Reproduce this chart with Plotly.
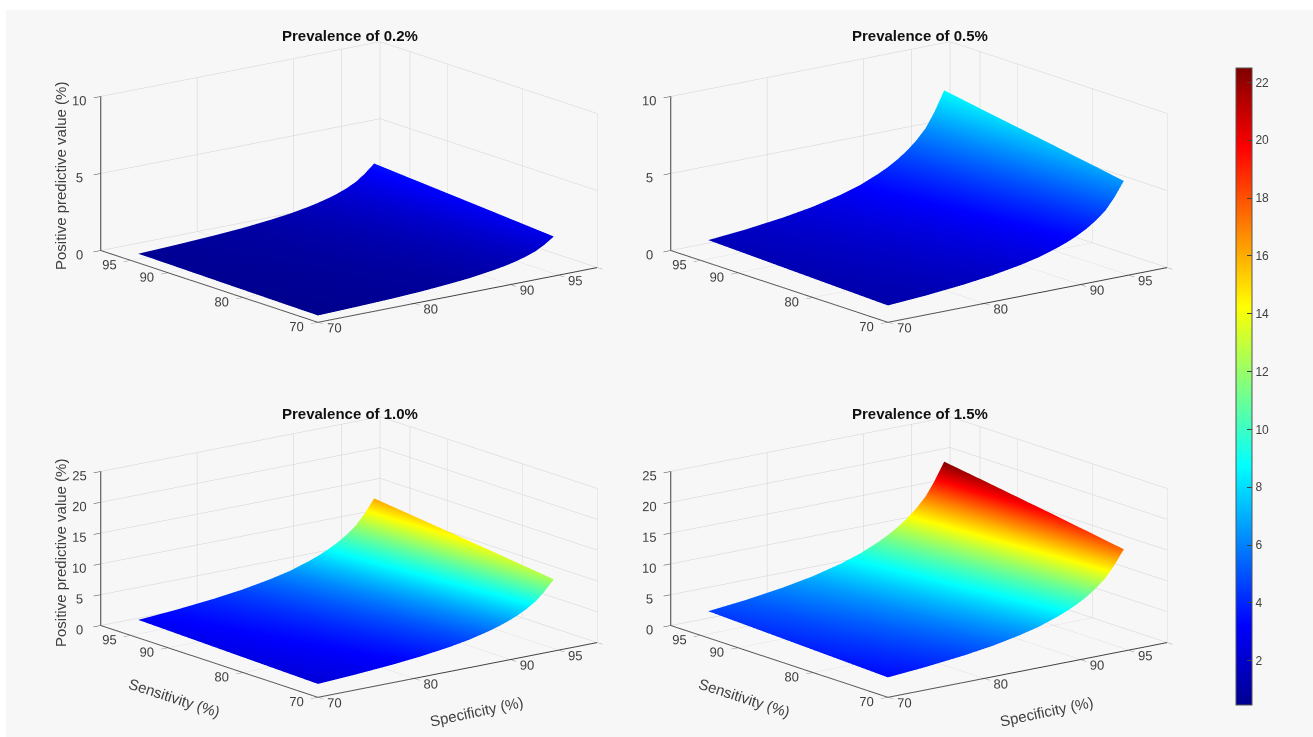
import plotly.graph_objects as go

sensitivity = [70, 79.6, 89.2, 94]
specificity = [70, 73.9, 77.8, 80.8, 83.7, 85.7, 87.6, 88.6, 89.6, 90.6, 91.6, 92.6, 93.5, 94.5]

ppv_02 = [
    [0.47, 0.54, 0.63, 0.73, 0.87, 0.99, 1.16, 1.26, 1.38, 1.53, 1.72, 1.96, 2.28, 2.73],
    [0.53, 0.61, 0.72, 0.84, 0.99, 1.13, 1.32, 1.44, 1.58, 1.75, 1.96, 2.24, 2.60, 3.11],
    [0.60, 0.69, 0.81, 0.94, 1.11, 1.27, 1.48, 1.61, 1.77, 1.96, 2.20, 2.51, 2.92, 3.48],
    [0.63, 0.73, 0.86, 0.99, 1.18, 1.34, 1.56, 1.70, 1.87, 2.07, 2.32, 2.65, 3.08, 3.67],
]
ppv_05 = [
    [1.16, 1.33, 1.57, 1.82, 2.15, 2.45, 2.85, 3.10, 3.40, 3.76, 4.21, 4.78, 5.54, 6.57],
    [1.32, 1.52, 1.79, 2.07, 2.45, 2.79, 3.24, 3.53, 3.86, 4.28, 4.78, 5.43, 6.28, 7.44],
    [1.49, 1.71, 2.01, 2.32, 2.75, 3.13, 3.63, 3.95, 4.33, 4.78, 5.35, 6.07, 7.01, 8.29],
    [1.57, 1.80, 2.12, 2.45, 2.90, 3.30, 3.83, 4.16, 4.56, 5.04, 5.63, 6.38, 7.37, 8.72],
]
ppv_10 = [
    [2.30, 2.65, 3.11, 3.59, 4.23, 4.81, 5.56, 6.04, 6.60, 7.28, 8.12, 9.17, 10.54, 12.39],
    [2.62, 3.01, 3.54, 4.08, 4.81, 5.46, 6.31, 6.84, 7.48, 8.24, 9.17, 10.35, 11.87, 13.91],
    [2.94, 3.38, 3.97, 4.57, 5.38, 6.10, 7.04, 7.63, 8.33, 9.17, 10.20, 11.49, 13.16, 15.38],
    [3.10, 3.56, 4.18, 4.81, 5.66, 6.41, 7.40, 8.02, 8.76, 9.64, 10.71, 12.05, 13.79, 16.10],
]
ppv_15 = [
    [3.43, 3.94, 4.62, 5.31, 6.25, 7.08, 8.16, 8.84, 9.63, 10.59, 11.76, 13.22, 15.09, 17.57],
    [3.90, 4.48, 5.25, 6.03, 7.08, 8.00, 9.22, 9.97, 10.86, 11.92, 13.22, 14.82, 16.88, 19.59],
    [4.37, 5.01, 5.86, 6.73, 7.89, 8.92, 10.25, 11.08, 12.05, 13.22, 14.63, 16.37, 18.59, 21.51],
    [4.60, 5.27, 6.17, 7.08, 8.29, 9.37, 10.76, 11.62, 12.64, 13.85, 15.31, 17.13, 19.42, 22.44],
]

titles = ["Prevalence of 0.2%", "Prevalence of 0.5%", "Prevalence of 1.0%", "Prevalence of 1.5%"]
panels = [ppv_02, ppv_05, ppv_10, ppv_15]
z_ticks = [[0, 5, 10], [0, 5, 10], [0, 5, 10, 15, 20, 25], [0, 5, 10, 15, 20, 25]]
z_tops = [10, 10, 25, 25]
bar_ticks = [2, 4, 6, 8, 10, 12, 14, 16, 18, 20, 22]
HEIGHT_VIEW = 0.94  # the reference's slight perspective lowers the far corner

W, H = 1313, 737
CX = [349, 919, 349, 919]
CY = [182, 182, 557, 557]
HW, HH = 280, 178

jet = [[0, "rgb(0,0,143)"], [0.125, "rgb(0,0,255)"], [0.375, "rgb(0,255,255)"],
       [0.625, "rgb(255,255,0)"], [0.875, "rgb(255,0,0)"], [1, "rgb(128,0,0)"]]

FONT = "Liberation Sans, Arial, sans-serif"
TICK = dict(family=FONT, size=12.5, color="#404040")
fig = go.Figure()
layout = dict(
    width=W, height=H, margin=dict(l=0, r=0, t=0, b=0),
    paper_bgcolor="white",
    coloraxis=dict(
        cmin=0.47, cmax=22.5, colorscale=jet,
        colorbar=dict(
            x=1236 / W, xanchor="left", y=1 - 68 / H, yanchor="top", xpad=0, ypad=0,
            len=637 / H, lenmode="fraction", thickness=16, thicknessmode="pixels",
            tickvals=bar_ticks, ticks="inside", ticklen=5, tickcolor="#404040",
            tickfont=dict(family=FONT, size=12, color="#404040"),
            outlinecolor="#555555", outlinewidth=1, borderwidth=0,
        ),
    ),
    shapes=[dict(type="rect", xref="paper", yref="paper", x0=6 / W, x1=1, y0=0, y1=1 - 10 / H,
                 fillcolor="#f7f7f7", line_width=0, layer="below")],
    annotations=[],
)

for i, (z, title) in enumerate(zip(panels, titles)):
    name = "scene" if i == 0 else f"scene{i + 1}"
    fig.add_trace(go.Surface(
        x=specificity, y=sensitivity, z=[[v * HEIGHT_VIEW for v in row] for row in z],
        surfacecolor=z, scene=name, coloraxis="coloraxis",
        lighting=dict(ambient=1, diffuse=0, specular=0, roughness=1, fresnel=0),
        hoverinfo="skip", showscale=i == 0,
    ))
    axis = dict(
        backgroundcolor="rgba(0,0,0,0)", showbackground=False,
        gridcolor="#d2d2d2", gridwidth=1, showline=True, linecolor="#404040", linewidth=2,
        ticks="outside", ticklen=9, tickcolor="#404040", tickfont=TICK, tickangle=0,
        zeroline=False, showspikes=False, title=dict(text=""),
    )
    layout[name] = dict(
        domain=dict(x=[(CX[i] - HW) / W, (CX[i] + HW) / W],
                    y=[1 - (CY[i] + HH) / H, 1 - (CY[i] - HH) / H]),
        xaxis=dict(axis, range=[70, 99], tickvals=[70, 80, 90, 95, 99], ticktext=["70", "80", "90", "95", " "]),
        yaxis=dict(axis, range=[70, 99], tickvals=[70, 80, 90, 95, 99], ticktext=["70", "80", "90", "95", " "]),
        zaxis=dict(axis, range=[0, z_tops[i]], tickvals=z_ticks[i], ticklen=5),
        aspectmode="manual", aspectratio=dict(x=1.98, y=2.0, z=0.895),
        camera=dict(projection=dict(type="orthographic"),
                    eye=dict(x=-1.17, y=-1.52, z=0.505),
                    center=dict(x=0, y=0, z=0), up=dict(x=0, y=0, z=1)),
    )
    layout["annotations"].append(dict(
        text=f"<b>{title}</b>", xref="paper", yref="paper", x=(350 + (i % 2) * 570) / W,
        y=1 - (35 + (i // 2) * 378) / H, showarrow=False, xanchor="center", yanchor="middle",
        font=dict(family=FONT, size=15, color="#111111")))

LABEL = dict(family=FONT, size=15, color="#404040")
for text, px, py, ang in [
    ("Positive predictive value (%)", 60, 176, -90), ("Positive predictive value (%)", 60, 553, -90),
    ("Sensitivity (%)", 174, 697, 18), ("Sensitivity (%)", 744, 697, 18),
    ("Specificity (%)", 476, 711, -12), ("Specificity (%)", 1046, 711, -12),
]:
    layout["annotations"].append(dict(text=text, xref="paper", yref="paper", x=px / W, y=1 - py / H,
                                      showarrow=False, textangle=ang, font=LABEL,
                                      xanchor="center", yanchor="middle"))

fig.update_layout(**layout)
fig.write_html("out.html", post_script="document.body.style.margin='0';",
               config=dict(displayModeBar=False))
